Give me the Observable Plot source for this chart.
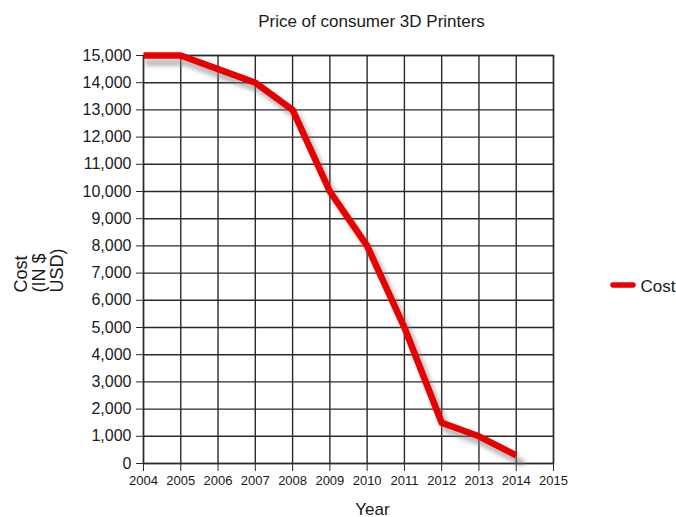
<!DOCTYPE html>
<html>
<head>
<meta charset="utf-8">
<script src="https://cdn.jsdelivr.net/npm/d3@7"></script>
<script src="https://cdn.jsdelivr.net/npm/@observablehq/plot@0.6"></script>
<style>
  html, body { margin: 0; padding: 0; background: #fff; }
  #chart svg { display: block; }
</style>
</head>
<body>
<div id="chart"></div>
<script>
// Price of consumer 3D printers, by year
const years = [2004, 2005, 2006, 2007, 2008, 2009, 2010, 2011, 2012, 2013, 2014];
const cost  = [15000, 15000, 14500, 14000, 13000, 10000, 8000, 5000, 1500, 1000, 300];

const xTicks = [2004, 2005, 2006, 2007, 2008, 2009, 2010, 2011, 2012, 2013, 2014, 2015];
const yTicks = [0, 1000, 2000, 3000, 4000, 5000, 6000, 7000, 8000, 9000, 10000, 11000, 12000, 13000, 14000, 15000];

const title = "Price of consumer 3D Printers";
const xLabel = "Year";
const yLabel = "Cost\n(IN $\nUSD)";
const seriesName = "Cost";

const rows = years.map((year, i) => ({year, cost: cost[i]}));

const W = 676, H = 517;
const M = {left: 143, right: 123, top: 55, bottom: 54};
const ink = "#2a2a2a";
const red = "#e80000";

const chart = Plot.plot({
  width: W,
  height: H,
  marginLeft: M.left,
  marginRight: M.right,
  marginTop: M.top,
  marginBottom: M.bottom,
  style: {fontFamily: "'Liberation Sans', Arial, sans-serif", background: "#fff", color: "#1a1a1a"},
  x: {domain: [2004, 2015]},
  y: {domain: [0, 15000]},
  marks: [
    Plot.gridX(xTicks, {stroke: ink, strokeOpacity: 1, strokeWidth: 1.4}),
    Plot.gridY(yTicks, {stroke: ink, strokeOpacity: 1, strokeWidth: 1.4}),
    Plot.frame({stroke: ink, strokeWidth: 1.4}),
    Plot.axisY(yTicks, {tickFormat: d3.format(","), fontSize: 16, tickSize: 7, tickPadding: 5, label: null, stroke: ink}),
    Plot.axisX(xTicks, {tickFormat: "d", fontSize: 13, tickSize: 8, tickPadding: 4, label: null, stroke: ink}),
    // soft drop shadow under the series line
    Plot.line(rows, {x: "year", y: "cost", stroke: "#777", strokeOpacity: 0.5, strokeWidth: 7, dx: 5, dy: 7, strokeLinejoin: "round"}),
    Plot.line(rows, {x: "year", y: "cost", stroke: red, strokeWidth: 6.5, strokeLinejoin: "round", strokeLinecap: "butt"}),
    Plot.text([title], {frameAnchor: "top", dx: 23, dy: -29, lineAnchor: "bottom", fontSize: 17, fill: "#1a1a1a"}),
    Plot.text([xLabel], {frameAnchor: "bottom", dx: 24, dy: 51, lineAnchor: "bottom", fontSize: 17, fill: "#1a1a1a"}),
    Plot.text([yLabel], {frameAnchor: "left", dx: -104, dy: 33, rotate: -90, lineHeight: 1, fontSize: 18, fill: "#1a1a1a"}),
    Plot.text([seriesName], {frameAnchor: "right", dx: 87, dy: 27, textAnchor: "start", fontSize: 17, fill: "#1a1a1a"})
  ]
});

document.getElementById("chart").append(chart);

// blur filter for the shadows
const svg = d3.select(chart);
const defs = svg.insert("defs", ":first-child");
defs.append("filter")
    .attr("id", "soft-shadow")
    .attr("x", "-20%").attr("y", "-20%").attr("width", "140%").attr("height", "140%")
  .append("feGaussianBlur")
    .attr("stdDeviation", 2.2);

const lineGroups = svg.selectAll('g[aria-label="line"]').nodes();
if (lineGroups.length) d3.select(lineGroups[0]).attr("filter", "url(#soft-shadow)");

// legend swatch beside the series name
const swX = W - M.right + 60;
const swY = (M.top + H - M.bottom) / 2 + 26;
const legend = svg.append("g").attr("class", "legend-swatch");
legend.append("line")
    .attr("x1", swX + 8).attr("x2", swX + 28)
    .attr("y1", swY + 9).attr("y2", swY + 9)
    .attr("stroke", "#777").attr("stroke-opacity", 0.5)
    .attr("stroke-width", 6).attr("stroke-linecap", "round")
    .attr("filter", "url(#soft-shadow)");
legend.append("line")
    .attr("x1", swX).attr("x2", swX + 20)
    .attr("y1", swY).attr("y2", swY)
    .attr("stroke", red).attr("stroke-width", 5.5).attr("stroke-linecap", "round");
</script>
</body>
</html>
